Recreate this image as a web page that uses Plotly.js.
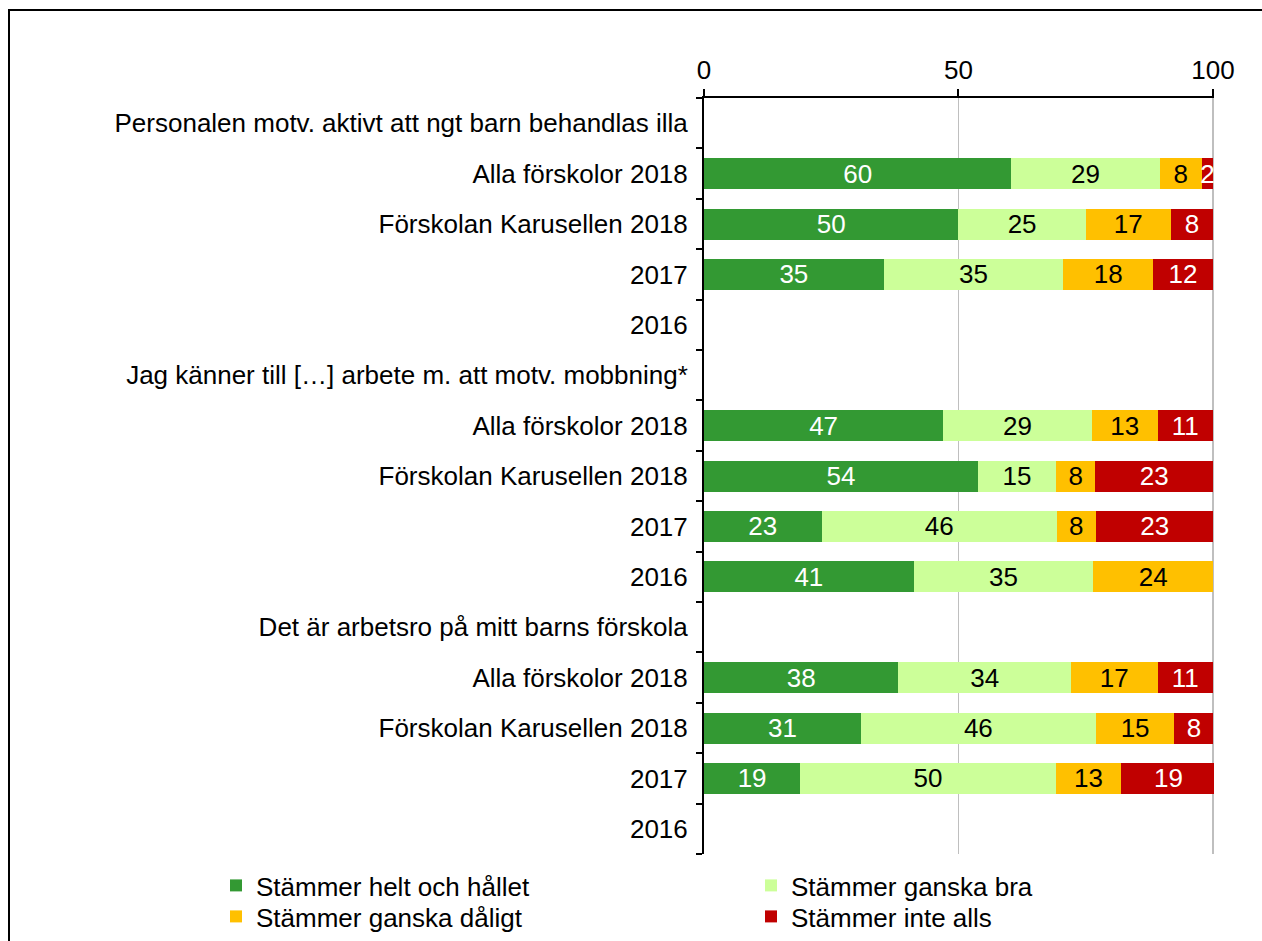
<!DOCTYPE html>
<html>
<head>
<meta charset="utf-8">
<script src="https://cdn.plot.ly/plotly-3.0.1.min.js"></script>
<style>
  html, body { margin: 0; padding: 0; background: #fff; }
  #wrap { position: relative; width: 1262px; height: 941px; overflow: hidden; }
  #chart { position: absolute; left: 0; top: 0; width: 1262px; height: 941px; }
  .fl { position: absolute; background: #000; pointer-events: none; }
</style>
</head>
<body>
<div id="wrap">
  <div id="chart"></div>
  <div class="fl" style="left:8px; top:9px; width:1254px; height:2px;"></div>
  <div class="fl" style="left:8px; top:9px; width:2px; height:932px;"></div>
</div>
<script>
// Row labels, top to bottom
const categories = [
  "Personalen motv. aktivt att ngt barn behandlas illa",
  "Alla förskolor 2018",
  "Förskolan Karusellen 2018",
  "2017",
  "2016",
  "Jag känner till […] arbete m. att motv. mobbning*",
  "Alla förskolor 2018",
  "Förskolan Karusellen 2018",
  "2017",
  "2016",
  "Det är arbetsro på mitt barns förskola",
  "Alla förskolor 2018",
  "Förskolan Karusellen 2018",
  "2017",
  "2016"
];

const seriesNames = ["Stämmer helt och hållet", "Stämmer ganska bra", "Stämmer ganska dåligt", "Stämmer inte alls"];

// Percentages per row (null = no bar)
const heltOchHallet = [null, 60.4, 50.0, 35.3, null, null, 47.0, 53.8, 23.1, 41.2, null, 38.2, 30.8, 18.9, null];
const ganskaBra     = [null, 29.1, 25.0, 35.3, null, null, 29.2, 15.4, 46.2, 35.3, null, 33.9, 46.2, 50.2, null];
const ganskaDaligt  = [null,  8.3, 16.7, 17.6, null, null, 12.9,  7.7,  7.7, 23.5, null, 17.0, 15.4, 12.9, null];
const inteAlls      = [null,  2.2,  8.3, 11.8, null, null, 10.9, 23.1, 23.1, null, null, 10.9,  7.7, 18.5, null];

const xTickVals = [0, 50, 100];

const colors = ["#339933", "#CCFF99", "#FFC000", "#C00000"];
const textColors = ["#ffffff", "#000000", "#000000", "#ffffff"];
const legendIds = ["legend", "legend2", "legend3", "legend4"];
const FONT = "Liberation Sans, Arial, sans-serif";
const FS = 26;

const rowIdx = categories.map((_, i) => i);
const seriesValues = [heltOchHallet, ganskaBra, ganskaDaligt, inteAlls];

const traces = seriesValues.map((vals, k) => ({
  type: "bar",
  orientation: "h",
  name: seriesNames[k],
  x: vals,
  y: rowIdx,
  marker: { color: colors[k], line: { width: 0 } },
  texttemplate: "%{x:.0f}",
  textposition: "inside",
  insidetextanchor: "middle",
  textangle: 0,
  constraintext: "none",
  textfont: { family: FONT, size: FS, color: textColors[k] },
  legend: legendIds[k],
  hoverinfo: "x+name"
}));

const boundaries = categories.map((_, i) => i - 0.5).concat([categories.length - 0.5]);

function legendAt(px, py) {
  return {
    xref: "container", yref: "container",
    x: px / 1262, y: 1 - py / 941,
    xanchor: "left", yanchor: "top",
    orientation: "v",
    bgcolor: "rgba(0,0,0,0)",
    font: { family: FONT, size: FS, color: "#000" }
  };
}

const layout = {
  width: 1262,
  height: 941,
  margin: { l: 704, r: 48, t: 98, b: 87, pad: 0, autoexpand: false },
  paper_bgcolor: "rgba(0,0,0,0)",
  plot_bgcolor: "rgba(0,0,0,0)",
  barmode: "stack",
  bargap: 0.385,
  font: { family: FONT, size: FS, color: "#000" },
  showlegend: true,
  xaxis: {
    side: "top",
    range: [0, 100.2],
    tickmode: "array",
    tickvals: xTickVals,
    ticktext: xTickVals.map(String),
    tickangle: 0,
    automargin: false,
    ticks: "outside",
    ticklen: 7,
    tickwidth: 2,
    tickcolor: "#000",
    showline: true,
    linecolor: "#000",
    linewidth: 2,
    showgrid: true,
    gridcolor: "#BFBFBF",
    gridwidth: 1.5,
    zeroline: false,
    tickfont: { family: FONT, size: FS, color: "#000" },
    fixedrange: true
  },
  yaxis: {
    range: [categories.length - 0.5, -0.5],
    tickmode: "array",
    tickvals: rowIdx,
    ticktext: categories,
    automargin: false,
    ticks: "",
    ticklabelstandoff: 9,
    showline: true,
    linecolor: "#000",
    linewidth: 2,
    showgrid: false,
    zeroline: false,
    tickfont: { family: FONT, size: FS, color: "#000" },
    minor: {
      tickmode: "array",
      tickvals: boundaries,
      ticks: "outside",
      ticklen: 6,
      tickwidth: 2,
      tickcolor: "#000",
      showgrid: false
    },
    fixedrange: true
  },
  legend:  legendAt(216, 862),
  legend2: legendAt(751, 862),
  legend3: legendAt(216, 893),
  legend4: legendAt(751, 893)
};

Plotly.newPlot("chart", traces, layout, { displayModeBar: false, staticPlot: true });
</script>
</body>
</html>
